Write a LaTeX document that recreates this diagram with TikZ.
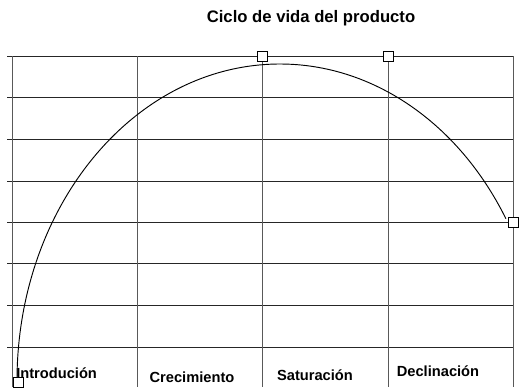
\documentclass[tikz,border=0pt]{standalone}
\usepackage{fontspec}
\setmainfont{Liberation Sans}
\usepackage{tikz}

\begin{document}
\begin{tikzpicture}[x=0.75pt,y=-0.75pt]
\useasboundingbox (0,0) rectangle (521,387);
\tikzset{hline/.style={black!85,line width=0.6pt},
  vline/.style={black!65,line width=0.6pt},
  mark box/.style={draw,fill=white,line width=0.6pt,minimum size=7.5pt,inner sep=0pt},
  phase/.style={font=\bfseries\fontsize{11}{13}\selectfont,inner sep=0pt}}
\foreach \y in {56,97,139,181,222,263,305,347}
  \draw[hline] (7,\y) -- (513,\y);
\foreach \x in {12,137,262,388,513}
  \draw[vline] (\x,56) -- (\x,387);
\draw[black,line width=0.7pt] (17,381) arc[start angle=180,end angle=30.8,x radius=263,y radius=-317];
\node[mark box] (m1) at (18,382) {};
\node[mark box] (m2) at (262,56) {};
\node[mark box] (m3) at (388,56) {};
\node[mark box] (m4) at (513,222) {};
\node[font=\bfseries\fontsize{12.5}{14}\selectfont] (t) at (311,18) {Ciclo de vida del producto};
\node[phase,anchor=west] (p1) at (16,373) {Introdución};
\node[phase] (p2) at (192,377) {Crecimiento};
\node[phase] (p3) at (315,375) {Saturación};
\node[phase] (p4) at (438,371) {Declinación};
\end{tikzpicture}
\end{document}
